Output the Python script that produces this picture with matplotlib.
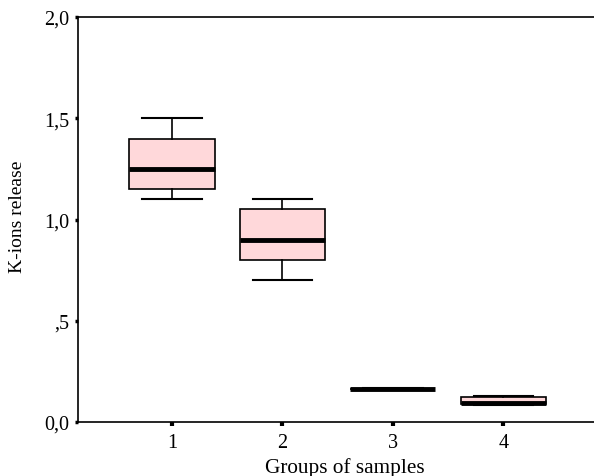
import matplotlib.pyplot as plt

# box statistics
groups = ['1', '2', '3', '4']
whislo = [1.10, 0.70, 0.157, 0.085]
q1 = [1.15, 0.80, 0.161, 0.090]
med = [1.25, 0.90, 0.163, 0.095]
q3 = [1.40, 1.05, 0.165, 0.125]
whishi = [1.50, 1.10, 0.168, 0.130]
yticks = [0.0, 0.5, 1.0, 1.5, 2.0]
ytick_labels = ['0,0', ',5', '1,0', '1,5', '2,0']

plt.rcParams['font.family'] = ['Liberation Serif', 'DejaVu Serif']

fig = plt.figure(figsize=(5.94, 4.77), dpi=100)
ax = fig.add_axes([78 / 594, 1 - 423 / 477, 1 - 78 / 594, (423 - 18) / 477])

stats = []
for i in range(len(groups)):
    stats.append({'label': groups[i], 'whislo': whislo[i], 'q1': q1[i], 'med': med[i],
                  'q3': q3[i], 'whishi': whishi[i], 'fliers': []})

ax.bxp(stats, positions=[1, 2, 3, 4], widths=0.77, capwidths=0.54, patch_artist=True,
       showfliers=False,
       boxprops=dict(facecolor='#ffd8da', edgecolor='black', linewidth=1.2),
       medianprops=dict(color='black', linewidth=3.5, solid_capstyle='butt'),
       whiskerprops=dict(color='black', linewidth=1.2),
       capprops=dict(color='black', linewidth=1.5))

ax.set_xlim(0.149, 4.82)
ax.set_ylim(0, 2.0)
ax.set_yticks(yticks)
ax.set_yticklabels(ytick_labels)
ax.set_xticks([1, 2, 3, 4])
ax.set_xticklabels(groups)

ax.spines['right'].set_visible(False)
for s in ['left', 'bottom', 'top']:
    ax.spines[s].set_linewidth(1.2)

ax.tick_params(axis='y', direction='out', length=2, width=2.5, labelsize=14.5, pad=4)
ax.tick_params(axis='x', direction='out', length=3, width=3, labelsize=14.5, pad=5)

ax.set_ylabel('K-ions release', fontsize=14)
ax.set_xlabel('Groups of samples', fontsize=15.3)
ax.yaxis.set_label_coords(-0.100, 0.51)
ax.xaxis.set_label_coords(0.517, -0.086)

fig.savefig('out.png', dpi=100)
